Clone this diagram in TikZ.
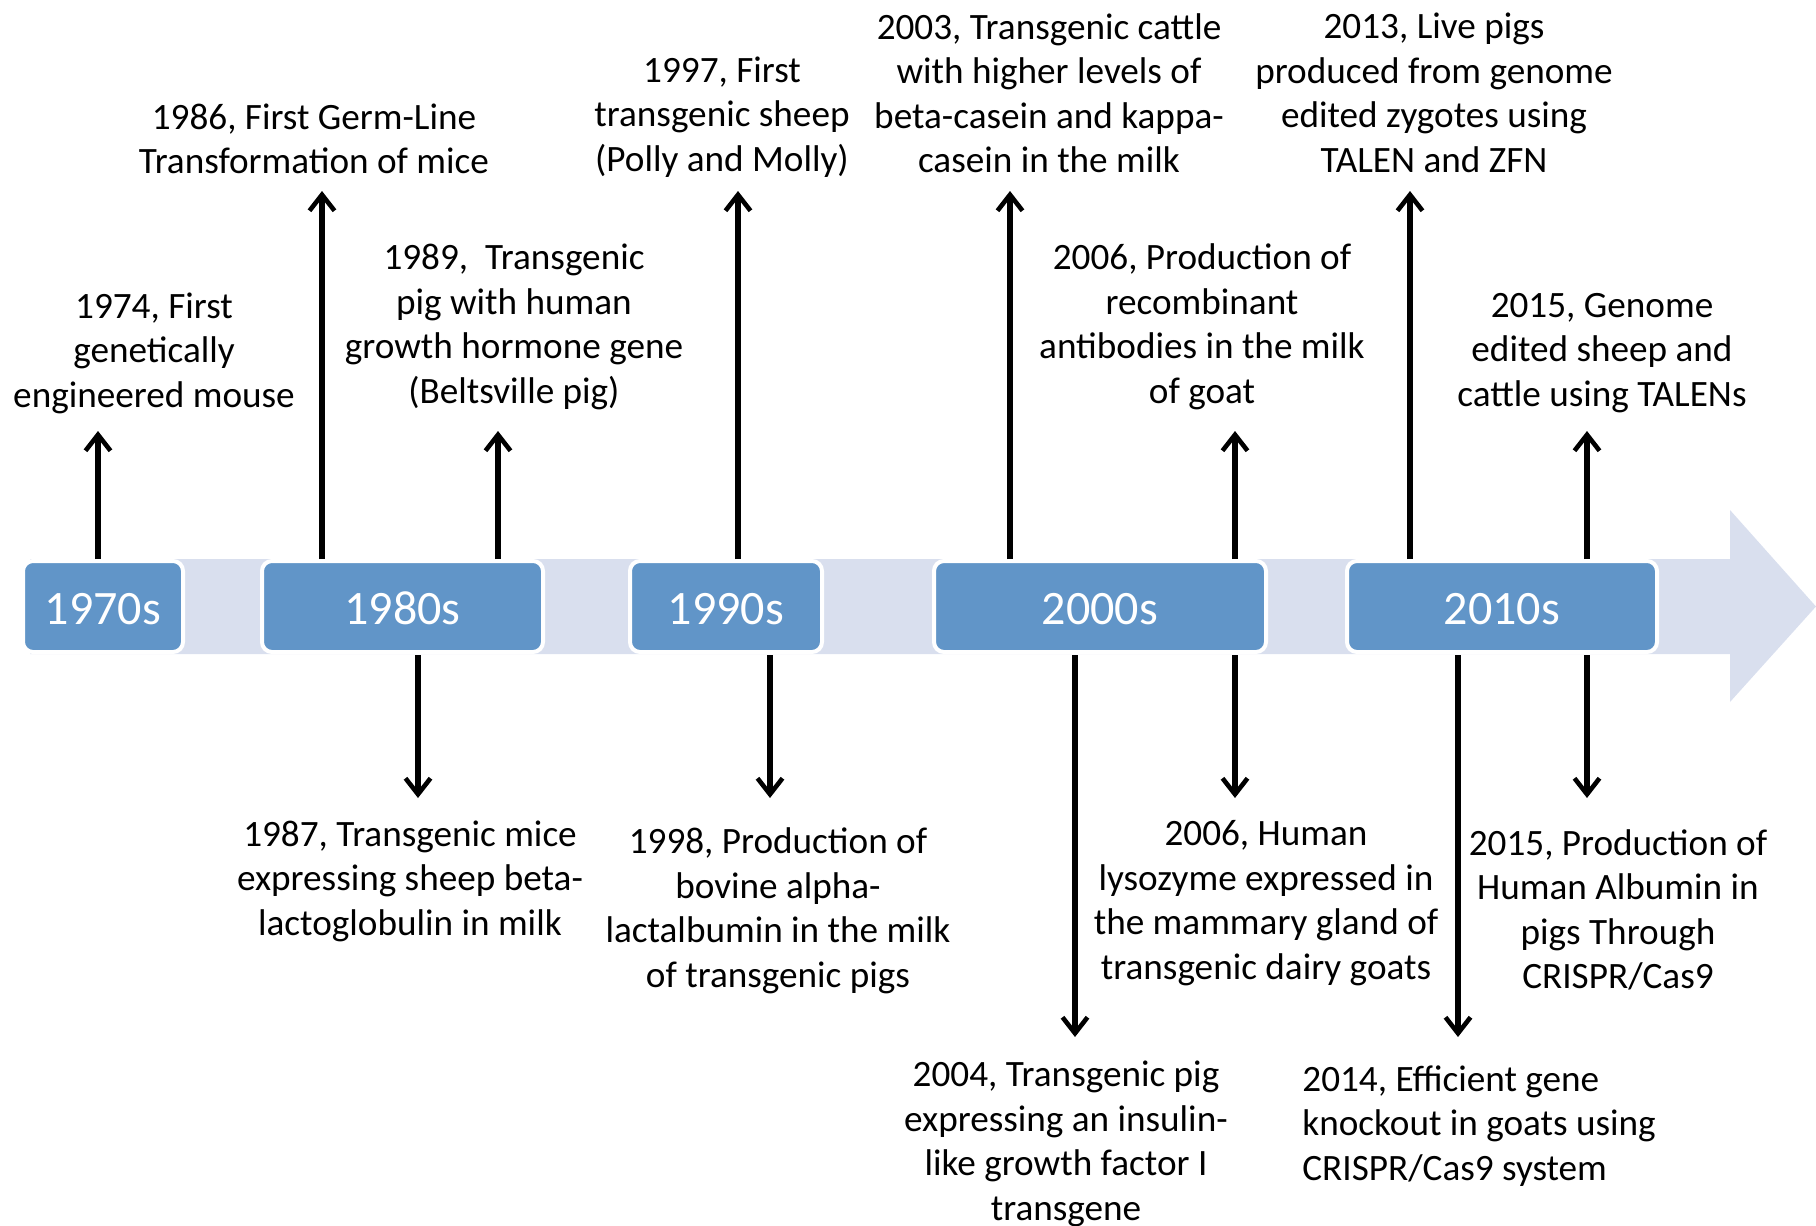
\documentclass[tikz,border=0pt]{standalone}
\usepackage{fontspec}
\setmainfont{Carlito}
\usetikzlibrary{arrows.meta}
\definecolor{boxblue}{RGB}{97,149,200}
\definecolor{bandcol}{RGB}{217,223,238}
\tikzset{
  decade/.style={draw=white, line width=2pt, fill=boxblue, rounded corners=5pt,
    minimum height=45.5pt, text=white, font=\fontsize{24}{28}\selectfont, inner sep=0pt,
    text height=17.6pt, text depth=0pt},
  ev/.style={align=center, font=\fontsize{18.6}{22.25}\selectfont, inner sep=0pt},
  evl/.style={align=left, font=\fontsize{18.6}{22.25}\selectfont, inner sep=0pt, anchor=west},
  conn/.style={line width=2.6pt, -{Straight Barb[length=8pt,width=12.5pt,line width=2.3pt]}}
}
\begin{document}
\begin{tikzpicture}[x=0.5pt,y=-0.5pt]
\useasboundingbox (0,0) rectangle (1816,1226);
% band arrow
\fill[bandcol] (30,559) -- (1730,559) -- (1730,510) -- (1816,606.5) -- (1730,702) -- (1730,654) -- (30,654) -- cycle;
% decade boxes
\node[decade, minimum width=80pt]    (d70) at (103,606.5)  {1970s};
\node[decade, minimum width=140.5pt] (d80) at (402.5,606.5) {1980s};
\node[decade, minimum width=96pt]    (d90) at (726,606.5)  {1990s};
\node[decade, minimum width=166pt]   (d00) at (1100,606.5) {2000s};
\node[decade, minimum width=155pt]   (d10) at (1502,606.5) {2010s};
% event texts above
\node[ev] (e1974) at (154,353) {1974, First\\genetically\\engineered mouse};
\node[ev] (e1986) at (314,139) {1986, First Germ-Line\\Transformation of mice};
\node[ev] (e1989) at (514,327) {1989,~ Transgenic\\pig with human\\growth hormone gene\\(Beltsville pig)};
\node[ev] (e1997) at (722,117) {1997, First\\transgenic sheep\\(Polly and Molly)};
\node[ev] (e2003) at (1049,93) {2003, Transgenic cattle\\with higher levels of\\beta-casein and kappa-\\casein in the milk};
\node[ev] (e2013) at (1434,93) {2013, Live pigs\\produced from genome\\edited zygotes using\\TALEN and ZFN};
\node[ev] (e2006a) at (1202,327) {2006, Production of\\recombinant\\antibodies in the milk\\of goat};
\node[ev] (e2015a) at (1602,353) {2015, Genome\\edited sheep and\\cattle using TALENs};
% event texts below
\node[ev] (e1987) at (410,881) {1987, Transgenic mice\\expressing sheep beta-\\lactoglobulin in milk};
\node[ev] (e1998) at (778,911) {1998, Production of\\bovine alpha-\\lactalbumin in the milk\\of transgenic pigs};
\node[ev] (e2006b) at (1266,903) {2006, Human\\lysozyme expressed in\\the mammary gland of\\transgenic dairy goats};
\node[ev] (e2015b) at (1618,910) {2015, Production of\\Human Albumin in\\pigs Through\\CRISPR/Cas9};
\node[ev] (e2004) at (1066,1144) {2004, Transgenic pig\\expressing an insulin-\\like growth factor I\\transgene};
\node[evl] (e2014) at (1302,1126) {2014, Efficient gene\\knockout in goats using\\CRISPR/Cas9 system};
% connector end points
\coordinate (u1s) at (98,559);   \coordinate (u1e) at (98,431);
\coordinate (u2s) at (322,559);  \coordinate (u2e) at (322,191);
\coordinate (u3s) at (498,559);  \coordinate (u3e) at (498,431);
\coordinate (u4s) at (738,559);  \coordinate (u4e) at (738,191);
\coordinate (u5s) at (1010,559); \coordinate (u5e) at (1010,191);
\coordinate (u6s) at (1235,559); \coordinate (u6e) at (1235,431);
\coordinate (u7s) at (1410,559); \coordinate (u7e) at (1410,191);
\coordinate (u8s) at (1587,559); \coordinate (u8e) at (1587,431);
\coordinate (b1s) at (418,655);  \coordinate (b1e) at (418,798);
\coordinate (b2s) at (770,655);  \coordinate (b2e) at (770,798);
\coordinate (b3s) at (1075,655); \coordinate (b3e) at (1075,1037);
\coordinate (b4s) at (1235,655); \coordinate (b4e) at (1235,798);
\coordinate (b5s) at (1458,655); \coordinate (b5e) at (1458,1037);
\coordinate (b6s) at (1587,655); \coordinate (b6e) at (1587,798);
% connectors
\foreach \a in {u1,u2,u3,u4,u5,u6,u7,u8,b1,b2,b3,b4,b5,b6}
  \draw[conn] (\a s) -- (\a e);
\end{tikzpicture}
\end{document}
